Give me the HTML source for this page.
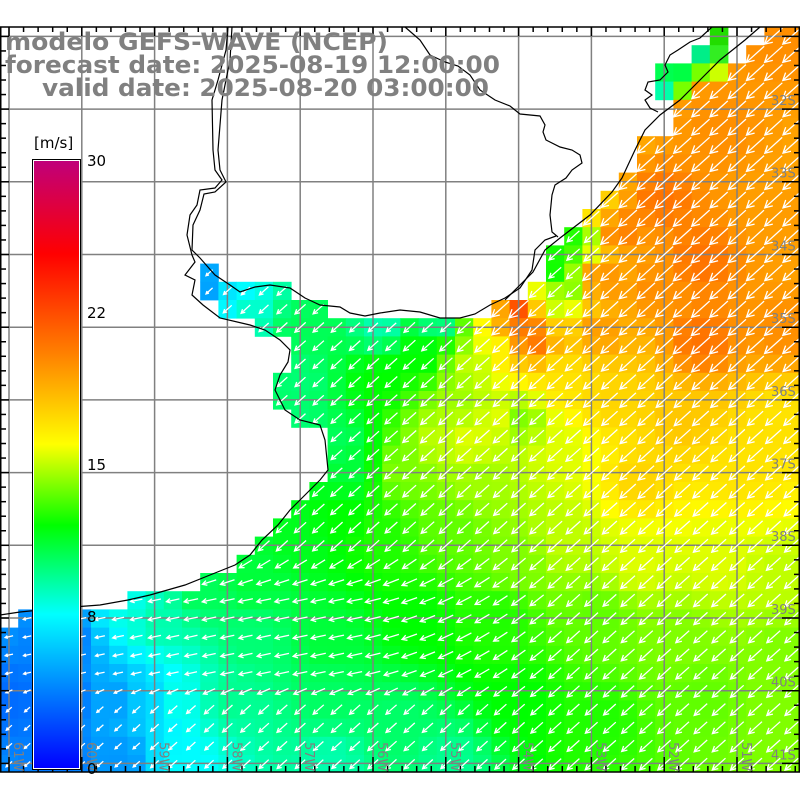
<!DOCTYPE html>
<html><head><meta charset="utf-8"><style>
html,body{margin:0;padding:0;background:#fff;width:800px;height:800px;overflow:hidden}
svg{display:block}
</style></head><body>
<svg id="s" width="800" height="800" xmlns="http://www.w3.org/2000/svg">
<defs>
<linearGradient id="cb" x1="0" y1="1" x2="0" y2="0">
<stop offset="0" stop-color="#0000ff"/>
<stop offset="0.2533" stop-color="#00ffff"/>
<stop offset="0.4" stop-color="#00ff00"/>
<stop offset="0.5333" stop-color="#ffff00"/>
<stop offset="0.6833" stop-color="#ff8000"/>
<stop offset="0.8467" stop-color="#ff0000"/>
<stop offset="1" stop-color="#c0007a"/>
</linearGradient>
<clipPath id="fr"><rect x="0" y="27" width="800" height="745"/></clipPath>
</defs>
<g id="cells" clip-path="url(#fr)"></g>
<g id="grid"></g>
<g id="arrows" clip-path="url(#fr)"></g>
<g id="coast" fill="none" stroke="#000" stroke-width="1.2"></g>
<g id="ticks" stroke="#000" stroke-width="1.5"></g>
<g id="labs" font-family="DejaVu Sans, Liberation Sans, sans-serif" font-size="13" fill="#808080"></g>
<rect x="32.5" y="159.5" width="48" height="610" fill="#fff" stroke="#000" stroke-width="1"/>
<rect x="34" y="161" width="45" height="607" fill="url(#cb)"/>
<g font-family="DejaVu Sans, Liberation Sans, sans-serif" font-size="15" fill="#000">
<text x="34" y="148">[m/s]</text>
<text x="87" y="166">30</text>
<text x="87" y="318">22</text>
<text x="87" y="470">15</text>
<text x="87" y="622">8</text>
<text x="87" y="774">0</text>
</g>
<g font-family="DejaVu Sans, Liberation Sans, sans-serif" font-weight="bold" font-size="24" fill="#808080">
<text x="5" y="50" textLength="383" lengthAdjust="spacingAndGlyphs">modelo GEFS-WAVE (NCEP)</text>
<text x="5" y="73" textLength="495" lengthAdjust="spacingAndGlyphs">forecast date: 2025-08-19 12:00:00</text>
<text x="42" y="96" textLength="447" lengthAdjust="spacingAndGlyphs">valid date: 2025-08-20 03:00:00</text>
</g>
</svg>
<script>
var NS="http://www.w3.org/2000/svg";
function el(p,t,a){var e=document.createElementNS(NS,t);for(var k in a)e.setAttribute(k,a[k]);p.appendChild(e);return e;}
var stops=[[0,[0,0,255]],[7.6,[0,255,255]],[12,[0,255,0]],[16,[255,255,0]],[20.5,[255,128,0]],[25.4,[255,0,0]],[30,[192,0,122]]];
function col(v){if(v<=0)v=0;if(v>=30)v=30;for(var i=0;i<stops.length-1;i++){var a=stops[i],b=stops[i+1];if(v<=b[0]){var t=(v-a[0])/(b[0]-a[0]);var c=a[1].map(function(x,j){return Math.round(x+(b[1][j]-x)*t)});return "rgb("+c.join(",")+")";}}return "rgb(192,0,122)";}
var A=[[780,40,20],[720,130,20],[660,200,21],[620,230,20.5],[700,260,21],[780,220,19.5],[650,290,20],[600,280,20],[590,210,17],[600,330,19.5],[700,340,21],[780,330,20],[680,420,18],[780,420,17],[740,470,17],[640,480,17.5],
[555,265,12],[575,240,12.5],[550,300,15],[565,290,14],[520,315,22.5],[530,340,21],[505,320,19],[500,345,16.5],[460,330,13.5],[470,360,15],[560,380,17],[610,400,17.5],
[210,285,4.8],[230,300,7],[240,310,8.5],[300,330,10.5],[380,325,9],[440,325,9.5],[300,380,10],[300,420,10],[340,440,10.5],[350,470,11],[380,380,12],[420,360,12],[460,400,14.5],[440,440,15],[470,440,15.5],[500,420,15.5],[400,470,14],[480,480,14.5],[520,420,14],[560,450,15.5],
[340,520,12],[300,540,11.5],[250,580,11],[200,590,10.5],[380,540,12.5],[450,530,13.5],[520,560,14],[560,540,15],[640,560,15.5],[720,560,15.5],[780,580,15],[780,650,14],[680,640,14],[600,620,13.5],[500,620,12.5],[420,620,12],[330,640,11],[250,640,10],[160,620,9],[130,600,8],
[60,640,3.5],[60,700,3.2],[9,700,3.2],[120,700,4.8],[150,700,6.5],[180,700,8],[230,700,9.5],[330,700,10.3],[400,720,10.2],[330,760,9],[450,760,9.5],[520,700,12],[600,720,12.5],[700,700,13.5],[780,720,14],[120,760,4.5],[60,760,3.5],[180,760,7.5]];
function speed(x,y){var sw=0,s=0;for(var i=0;i<A.length;i++){var dx=x-A[i][0],dy=y-A[i][1];var d=dx*dx+dy*dy+1;var w=1/(d*Math.sqrt(d));sw+=w;s+=w*A[i][2];}return s/sw;}
var R=[];for(var r=0;r<41;r++)R[r]=[[0,43]];
var rightStart=[42,41,40,38,37,37,35,35,34,33,32,31,30,30,29,27];
for(var r=0;r<16;r++)R[r]=[[rightStart[r],43]];
R[13]=[[11,11],[30,43]];R[14]=[[11,15],[29,43]];R[15]=[[12,17],[27,43]];
var ls={16:14,17:16,18:16,19:15,20:15,21:16,22:18,23:18,24:18,25:17,26:16,27:15,28:14,29:13,30:11,31:7,32:1};
for(var k in ls)R[k]=[[ls[k],43]];
var lag={0:{39:'#22dd00'},1:{38:'#00ee88',39:'#33ee22'},2:{36:'#00ff50',37:'#00ff44',38:'#77ff00',39:'#ccff00'},3:{36:'#00ffaa',37:'#77ff00'}};
var W=18.2,H=18.2;
var cg=document.getElementById('cells'),ag=document.getElementById('arrows');
function cl(v,a,b){return Math.max(a,Math.min(b,v));}
for(var r=0;r<41;r++){var y=27+r*H;var cy=y+H/2;
 if(lag[r])for(var c in lag[r])el(cg,'rect',{x:(c*W).toFixed(1),y:y.toFixed(1),width:W+0.4,height:H+0.4,fill:lag[r][c]});
 R[r].forEach(function(seg){for(var c=seg[0];c<=seg[1];c++){var x=c*W,cx=x+W/2;var v=speed(cx,cy);
  el(cg,'rect',{x:x.toFixed(1),y:y.toFixed(1),width:W+0.4,height:H+0.4,fill:col(v)});
  var t=cl((560-cx)/200,0,1)*cl((cy-550)/40,0,1)*cl((710-cy)/30,0,1);
  var th=(42-30*t)*Math.PI/180;var L=4+v*1.0;var dx=-Math.cos(th),dy=Math.sin(th);
  var x1=cx-dx*L/2,y1=cy-dy*L/2,x2=cx+dx*L/2,y2=cy+dy*L/2;var h=Math.max(3,L*0.35);
  function rot(a){return [-(dx*Math.cos(a)-dy*Math.sin(a))*h,-(dx*Math.sin(a)+dy*Math.cos(a))*h];}
  var p1=rot(0.5),p2=rot(-0.5);
  el(ag,'path',{d:"M"+x1.toFixed(1)+" "+y1.toFixed(1)+"L"+x2.toFixed(1)+" "+y2.toFixed(1)+"M"+(x2+p1[0]).toFixed(1)+" "+(y2+p1[1]).toFixed(1)+"L"+x2.toFixed(1)+" "+y2.toFixed(1)+"L"+(x2+p2[0]).toFixed(1)+" "+(y2+p2[1]).toFixed(1),stroke:"#fff","stroke-width":"1.3",fill:"none"});
 }});
}
var gg=document.getElementById('grid');
for(var i=0;i<11;i++){var gx=9+72.8*i;el(gg,'line',{x1:gx,y1:27,x2:gx,y2:772,stroke:"#808080","stroke-width":1.5});}
for(var i=0;i<11;i++){var gy=36.4+72.7*i;el(gg,'line',{x1:0,y1:gy,x2:800,y2:gy,stroke:"#808080","stroke-width":1.5});}
var cgp=document.getElementById('coast');
function pl(pts){el(cgp,'polyline',{points:pts.map(function(p){return p.join(",")}).join(" ")});}
pl([[228,27],[226,50],[218,80],[212,100],[213,150],[215,170],[222,180],[215,188],[200,190],[197,205],[190,215],[187,235],[192,255],[195,262],[185,275],[195,280],[192,295],[203,305],[220,318],[250,325],[265,330],[280,340],[290,350],[288,362],[280,375],[275,390],[285,410],[300,420],[320,425],[325,440],[328,470],[320,480],[310,490],[300,500],[290,510],[278,525],[262,540],[250,555],[235,565],[210,575],[185,585],[150,595],[128,600],[100,605],[60,608],[20,612],[0,615]]);
pl([[232,27],[230,60],[222,100],[218,150],[220,170],[226,182],[215,192],[204,194],[200,210],[193,225],[192,250],[200,258],[215,275],[230,285],[240,292],[255,287],[270,285],[290,288],[305,298],[320,305],[340,307],[350,313],[365,316],[380,313],[400,310],[420,312],[440,318],[460,318],[475,314],[490,305],[505,298],[520,288],[532,270],[535,250],[545,240],[556,236]]);
pl([[405,27],[420,40],[430,55],[445,62],[458,66],[470,75],[480,90],[495,100],[510,106],[520,114],[540,116],[545,125],[543,132],[546,140],[560,147],[572,150],[580,155],[582,163],[572,170],[566,178],[555,185],[552,195],[550,215],[552,232],[558,237]]);
pl([[505,300],[520,285],[533,272],[545,250],[560,238],[590,215],[612,192],[622,178],[628,165],[635,150],[645,130],[660,115],[680,100],[700,80],[720,60],[745,40],[760,27]]);
pl([[712,27],[700,38],[690,42],[678,50],[670,55],[665,65],[668,72],[660,80],[648,82],[645,90],[652,95],[645,100],[650,108],[658,112]]);
var tg=document.getElementById('ticks');
el(tg,'rect',{x:0.75,y:27,width:798.5,height:745,fill:"none"});
for(var i=-1;i<56;i++){var tx=9+14.56*i;if(tx<1||tx>799)continue;var mj=(i%5==0);
 el(tg,'line',{x1:tx,y1:27,x2:tx,y2:27+(mj?9:5)});
 el(tg,'line',{x1:tx,y1:772,x2:tx,y2:772-(mj?15:6)});}
for(var i=-1;i<56;i++){var ty=36.4+14.54*i;if(ty<28||ty>771)continue;var mj=(i%5==0);
 el(tg,'line',{x1:0,y1:ty,x2:(mj?9:6),y2:ty});
 el(tg,'line',{x1:800,y1:ty,x2:800-(mj?18:6),y2:ty});}
var lg=document.getElementById('labs');
for(var i=0;i<10;i++){var t=el(lg,'text',{x:771,y:(105+72.7*i).toFixed(1)});t.textContent=(32+i)+"S";}
for(var i=0;i<11;i++){var bx=9+72.8*i+5;var t=el(lg,'text',{x:0,y:0,transform:"translate("+bx.toFixed(1)+",742) rotate(90)"});t.textContent=(61-i)+"W";}
</script>
</body></html>
